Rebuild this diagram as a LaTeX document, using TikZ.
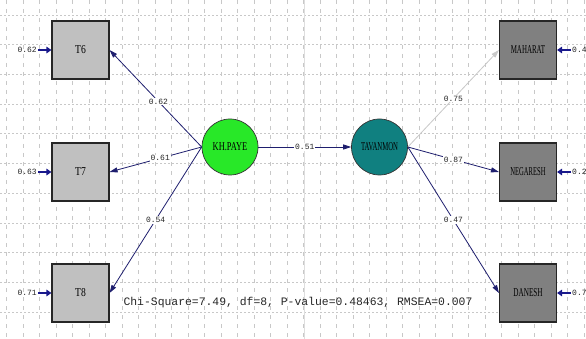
\documentclass[tikz,border=0pt]{standalone}
\usepackage{fontspec}
\setmainfont{Liberation Serif}
\setmonofont{Liberation Mono}
\usetikzlibrary{arrows.meta}
\definecolor{navy}{RGB}{30,30,110}
\definecolor{errnavy}{RGB}{25,25,140}
\definecolor{lgrayfill}{RGB}{192,192,192}
\definecolor{dgrayfill}{RGB}{128,128,128}
\definecolor{kgreen}{RGB}{40,232,40}
\definecolor{kteal}{RGB}{16,128,128}
\definecolor{gridc}{RGB}{200,200,200}
\definecolor{pathgray}{RGB}{200,200,200}
\newcommand{\sqz}[2][0.6]{\scalebox{#1}[1]{\fontsize{12}{12}\selectfont #2}}
\tikzset{
  obsbox/.style={draw=black!85, line width=1.1pt, inner sep=0pt, minimum width=57pt, minimum height=58pt},
  lbox/.style={obsbox, fill=lgrayfill},
  rbox/.style={obsbox, fill=dgrayfill},
  latent/.style={circle, draw=black!80, line width=0.7pt, inner sep=0pt, minimum size=56pt},
  pathline/.style={draw=navy, line width=0.8pt, -{Triangle[length=8pt,width=5pt]}},
  errarrow/.style={draw=errnavy, line width=2.2pt, -{Triangle[length=5pt,width=6.5pt]}},
  coef/.style={font=\ttfamily\fontsize{8}{9}\selectfont, fill=white, inner sep=1pt, text=black!85},
  errlbl/.style={font=\ttfamily\fontsize{8}{9}\selectfont, inner sep=1pt, text=black!85},
  gridline/.style={draw=gridc, line width=0.6pt, dash pattern=on 3pt off 3pt},
}
\begin{document}
\begin{tikzpicture}[x=1pt,y=-1pt]
\useasboundingbox (0,0) rectangle (586,339);
\clip (0,0) rectangle (586,339);
\fill[white] (0,0) rectangle (586,339);
% grid
\foreach \i in {0,...,35} {
  \draw[gridline, dash pattern=on 4pt off 5pt] ({6.5+16.5*\i},0) -- ({6.5+16.5*\i},339);
}
\foreach \j in {0,...,11} {
  \draw[gridline, dash pattern=on 2pt off 2pt] (0,{15+29.7*\j}) -- (586,{15+29.7*\j});
}
\draw[draw=gridc!60, line width=0.8pt] (304,0) -- (304,339);

% observed variables
\node[lbox] (T6) at (80.5,50) {\sqz[0.8]{T6}};
\node[lbox] (T7) at (80.5,172) {\sqz[0.8]{T7}};
\node[lbox] (T8) at (80.5,293) {\sqz[0.8]{T8}};
\node[rbox] (MAH) at (528,50) {\sqz[0.58]{MAHARAT}};
\node[rbox] (NEG) at (528,172) {\sqz[0.55]{NEGARESH}};
\node[rbox] (DAN) at (528,293) {\sqz[0.6]{DANESH}};

% latent variables
\node[latent, fill=kgreen] (KH) at (230,147) {\sqz[0.7]{KH.PAYE}};
\node[latent, fill=kteal] (TAV) at (379.5,147) {\sqz[0.56]{TAVANMON}};

% error labels
\node[errlbl, anchor=east] (e6) at (38,50) {0.62};
\node[errlbl, anchor=east] (e7) at (38,172) {0.63};
\node[errlbl, anchor=east] (e8) at (38,293) {0.71};
\node[errlbl, anchor=west] (eM) at (571,50) {0.4};
\node[errlbl, anchor=west] (eN) at (571,172) {0.2};
\node[errlbl, anchor=west] (eD) at (571,293) {0.7};

\draw[errarrow] (e6.east) -- (T6.west);
\draw[errarrow] (e7.east) -- (T7.west);
\draw[errarrow] (e8.east) -- (T8.west);
\draw[errarrow] (eM.west) -- (MAH.east);
\draw[errarrow] (eN.west) -- (NEG.east);
\draw[errarrow] (eD.west) -- (DAN.east);

% paths
\draw[pathline] (KH.west) -- node[coef, pos=0.47] {0.62} (T6.east);
\draw[pathline] (KH.west) -- node[coef, pos=0.45] {0.61} (T7.east);
\draw[pathline] (KH.west) -- node[coef, pos=0.5] {0.54} (T8.east);
\draw[pathline] (KH.east) -- node[coef, pos=0.5] {0.51} (TAV.west);
\draw[pathline, draw=pathgray] (TAV.east) -- node[coef, pos=0.5] {0.75} (MAH.west);
\draw[pathline] (TAV.east) -- node[coef, pos=0.5] {0.87} (NEG.west);
\draw[pathline] (TAV.east) -- node[coef, pos=0.5] {0.47} (DAN.west);

% fit statistics
\node[font=\ttfamily\fontsize{11.4}{12}\selectfont, text=black!85, inner sep=0pt] (fit) at (298,303) {Chi-Square=7.49, df=8, P-value=0.48463, RMSEA=0.007};
\end{tikzpicture}
\end{document}
